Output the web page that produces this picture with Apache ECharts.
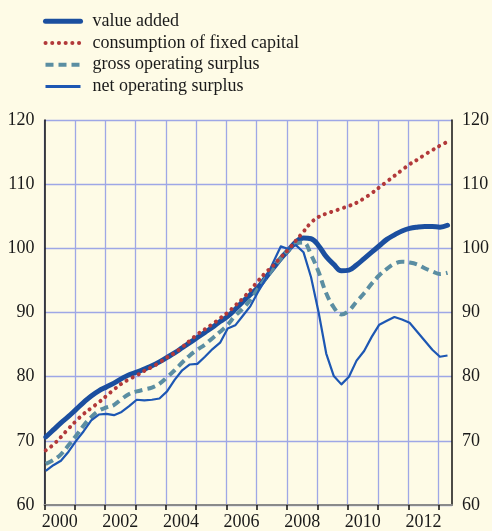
<!DOCTYPE html>
<html>
<head>
<meta charset="utf-8">
<script src="https://cdn.jsdelivr.net/npm/echarts@6/dist/echarts.min.js"></script>
<style>
html,body{margin:0;padding:0;background:#fefbe6;}
#chart{width:492px;height:531px;}
</style>
</head>
<body>
<div id="chart"></div>
<script>
// Quarterly series, 2000Q1 .. 2013Q2 (index, 2008 = 100)
const startYear = 2000;
const seriesNames = ['value added', 'consumption of fixed capital', 'gross operating surplus', 'net operating surplus'];
const valueAdded = [
  70.6, 71.7, 72.8, 73.8, 74.9, 76.0, 77.0, 77.8,
  78.4, 79.0, 79.7, 80.3, 80.7, 81.2, 81.7, 82.3,
  83.0, 83.7, 84.5, 85.3, 86.1, 86.9, 87.7, 88.6,
  89.4, 90.5, 91.7, 92.8, 93.9, 95.4, 96.9, 98.4,
  99.7, 101.0, 101.6, 101.5, 100.4, 98.7, 97.5, 96.5,
  96.6, 97.4, 98.4, 99.4, 100.4, 101.4, 102.1, 102.7,
  103.1, 103.3, 103.4, 103.4, 103.3, 103.6
];
const consumptionFixedCapital = [
  68.5, 69.4, 70.6, 71.9, 73.1, 74.2, 75.1, 76.0,
  77.0, 78.0, 78.9, 79.6, 80.2, 80.9, 81.5, 82.2,
  83.0, 83.7, 84.6, 85.6, 86.6, 87.4, 88.2, 89.1,
  90.0, 91.1, 92.2, 93.5, 94.9, 96.2, 97.3, 98.6,
  99.8, 101.2, 102.6, 104.0, 104.9, 105.4, 105.8, 106.2,
  106.6, 107.1, 107.8, 108.6, 109.5, 110.4, 111.3, 112.2,
  113.1, 113.8, 114.6, 115.3, 116.0, 116.6
];
const grossOperatingSurplus = [
  66.4, 67.0, 67.9, 69.3, 70.8, 72.4, 73.7, 74.7,
  75.2, 75.6, 76.5, 77.3, 77.7, 78.0, 78.3, 78.9,
  79.9, 81.0, 82.2, 83.3, 84.2, 85.0, 86.0, 87.0,
  88.1, 89.5, 90.6, 92.0, 93.7, 95.3, 96.9, 98.4,
  99.7, 100.7, 100.9, 99.0, 96.3, 93.0, 90.8, 89.7,
  90.3, 91.7, 93.0, 94.5, 95.8, 96.8, 97.6, 97.9,
  97.8, 97.5, 96.9, 96.4, 96.0, 96.2
];
const netOperatingSurplus = [
  65.3, 66.2, 66.9, 68.3, 70.0, 71.5, 73.2, 74.1,
  74.2, 74.0, 74.5, 75.4, 76.4, 76.3, 76.4, 76.6,
  77.7, 79.5, 81.0, 81.9, 82.0, 83.1, 84.3, 85.3,
  87.5, 88.0, 89.5, 91.0, 93.2, 95.2, 97.8, 100.3,
  99.9, 100.5, 99.4, 95.5, 90.0, 83.6, 80.1, 78.8,
  80.0, 82.5, 84.0, 86.2, 88.1, 88.7, 89.3, 88.9,
  88.4, 87.0, 85.6, 84.2, 83.1, 83.3
];
const xTickYears = [2000,2001,2002,2003,2004,2005,2006,2007,2008,2009,2010,2011,2012,2013];
const xLabelYears = ['2000','2002','2004','2006','2008','2010','2012'];
const yTicks = [60,70,80,90,100,110,120];

// x position of each quarter: plotted at the middle of the quarter's first month
const qx = i => startYear + i / 4 + 1 / 24;
const pairs = arr => arr.map((v, i) => [qx(i), v]);

const FONT = '"Liberation Serif", "DejaVu Serif", serif';
const chart = echarts.init(document.getElementById('chart'), null, {renderer: 'canvas'});

const styles = {
  'value added': {color: '#1b4f9f', width: 5, type: 'solid', cap: 'round'},
  'consumption of fixed capital': {color: '#b2393a', width: 4, type: [0.1, 6.6], cap: 'round'},
  'gross operating surplus': {color: '#5b8ea2', width: 4, type: [8, 5], cap: 'butt'},
  'net operating surplus': {color: '#1d57b3', width: 2.2, type: 'solid', cap: 'butt'}
};
const legendLine = {
  'value added': {width: 5},
  'consumption of fixed capital': {width: 4},
  'gross operating surplus': {width: 4},
  'net operating surplus': {width: 3}
};

function mkSeries(name, arr, smooth, z) {
  const s = styles[name];
  return {
    name, type: 'line', data: pairs(arr), showSymbol: false, symbol: 'none',
    smooth: smooth, z: z, animation: false,
    lineStyle: {color: s.color, width: s.width, type: s.type, cap: s.cap, join: 'round'},
    itemStyle: {color: s.color}
  };
}

chart.setOption({
  backgroundColor: '#fefbe6',
  animation: false,
  textStyle: {fontFamily: FONT},
  legend: {
    orient: 'vertical', left: 43, top: 10.5, padding: 0, itemGap: 0,
    itemWidth: 35, itemHeight: 14,
    data: seriesNames.map(n => ({
      name: n,
      itemStyle: {opacity: 0},
      lineStyle: {color: styles[n].color, width: legendLine[n].width, type: styles[n].type, cap: styles[n].cap}
    })),
    textStyle: {fontFamily: FONT, fontSize: 18, color: '#1a1a1a', lineHeight: 21.7, padding: [0, 0, 0, 7]}
  },
  grid: {left: 44.5, right: 34, top: 120, bottom: 25, containLabel: false},
  xAxis: {
    type: 'value', min: 2000, max: 2013.44, interval: 1,
    axisLine: {show: true, lineStyle: {color: '#8a8a8a', width: 2}},
    axisTick: {show: true, inside: false, length: 5, customValues: xTickYears, lineStyle: {color: '#111', width: 1.5}},
    axisLabel: {
      customValues: xLabelYears.map(y => +y + 0.5),
      formatter: v => String(Math.floor(v)),
      fontFamily: FONT, fontSize: 18, color: '#1a1a1a', margin: 8
    },
    splitLine: {show: true, lineStyle: {color: '#9ea7e6', width: 1.3}}
  },
  yAxis: [
    {
      type: 'value', position: 'left', min: yTicks[0], max: yTicks[yTicks.length - 1], interval: 10,
      axisLine: {show: true, lineStyle: {color: '#111', width: 1.5}},
      axisTick: {show: false},
      axisLabel: {fontFamily: FONT, fontSize: 18, color: '#1a1a1a', margin: 10},
      splitLine: {show: true, lineStyle: {color: '#9ea7e6', width: 1.3}}
    },
    {
      type: 'value', position: 'right', min: yTicks[0], max: yTicks[yTicks.length - 1], interval: 10,
      axisLine: {show: true, lineStyle: {color: '#111', width: 1.5}},
      axisTick: {show: false},
      axisLabel: {fontFamily: FONT, fontSize: 18, color: '#1a1a1a', margin: 10},
      splitLine: {show: false}
    }
  ],
  series: [
    mkSeries('value added', valueAdded, 0.4, 2),
    mkSeries('gross operating surplus', grossOperatingSurplus, 0.4, 3),
    mkSeries('net operating surplus', netOperatingSurplus, false, 4),
    mkSeries('consumption of fixed capital', consumptionFixedCapital, 0.4, 5)
  ]
});
</script>
</body>
</html>
